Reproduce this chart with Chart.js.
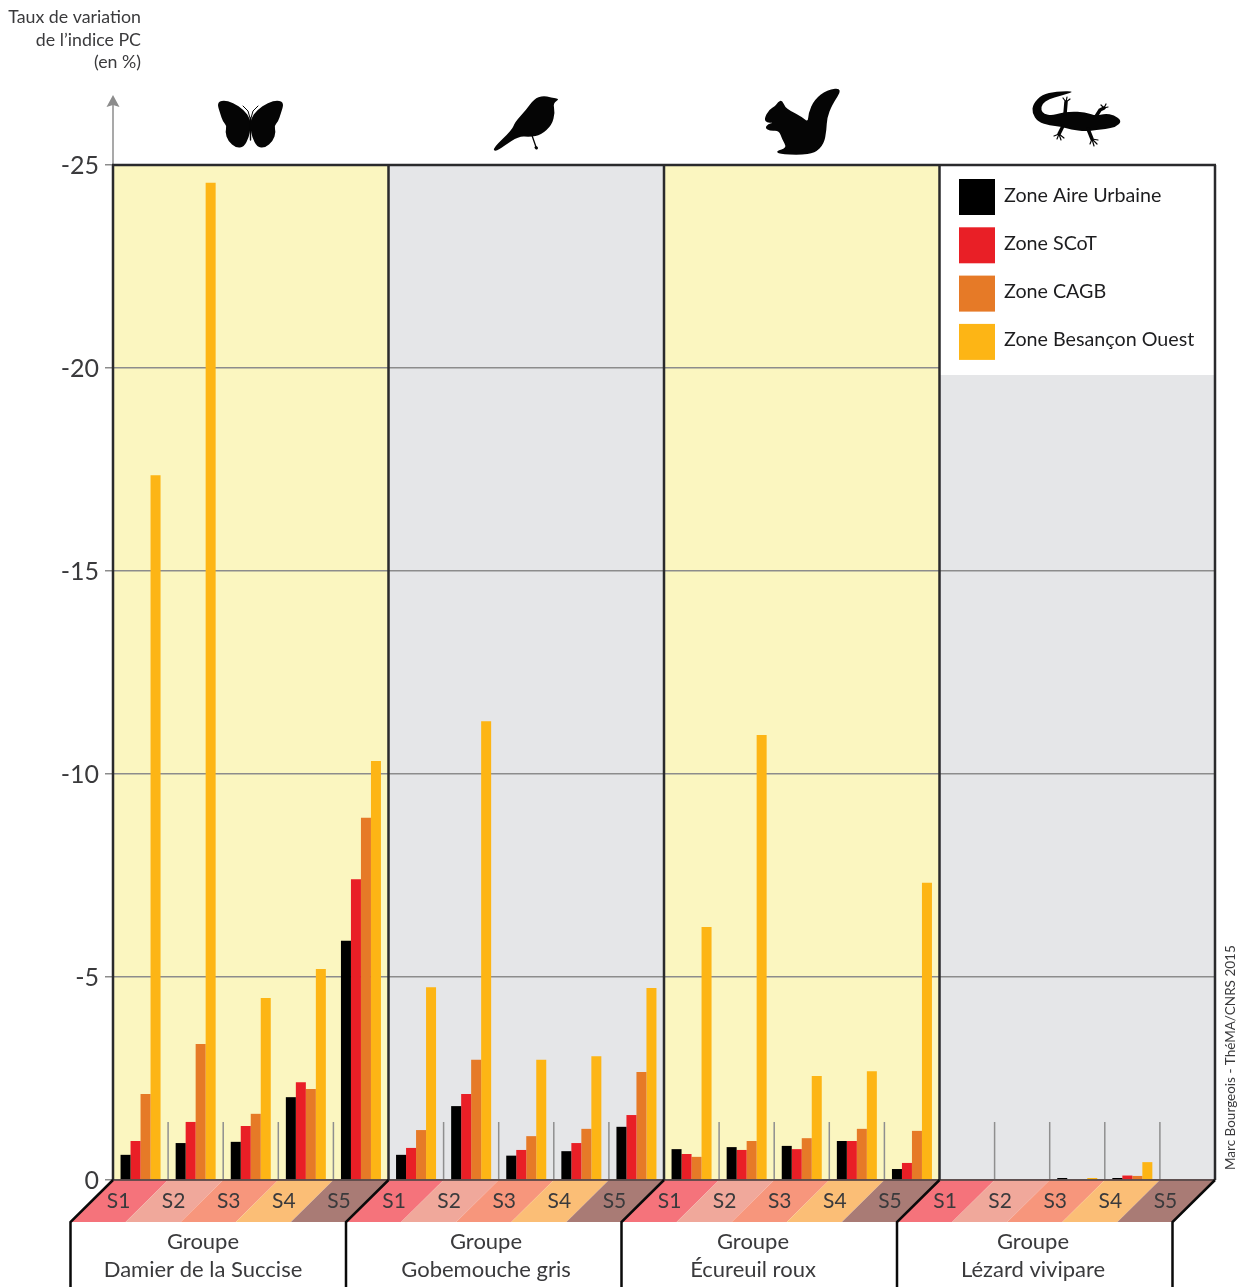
<!DOCTYPE html>
<html lang="fr">
<head>
<meta charset="utf-8">
<title>Taux de variation de l'indice PC</title>
<script src="https://cdn.jsdelivr.net/npm/chart.js@4/dist/chart.umd.min.js"></script>
<style>
  html, body { margin: 0; padding: 0; background: #fff; }
  canvas { display: block; }
</style>
</head>
<body>
<canvas id="myChart" width="1246" height="1287"></canvas>
<script>
  // values, 4 groups x 5 scenarios
  const seances = ['S1', 'S2', 'S3', 'S4', 'S5'];
  const groupes = [['Groupe', 'Damier de la Succise'], ['Groupe', 'Gobemouche gris'], ['Groupe', 'Écureuil roux'], ['Groupe', 'Lézard vivipare']];
  const yTicks = [0, -5, -10, -15, -20, -25];
  const aireUrbaine = [-0.62, -0.91, -0.94, -2.04, -5.89, -0.62, -1.82, -0.6, -0.71, -1.31, -0.76, -0.81, -0.84, -0.96, -0.27, 0, 0, -0.05, -0.05, 0];
  const scot = [-0.96, -1.43, -1.33, -2.41, -7.41, -0.79, -2.12, -0.74, -0.91, -1.6, -0.64, -0.74, -0.76, -0.96, -0.42, 0, 0, 0, -0.11, 0];
  const cagb = [-2.12, -3.35, -1.63, -2.24, -8.92, -1.23, -2.96, -1.08, -1.26, -2.66, -0.57, -0.96, -1.03, -1.26, -1.21, 0, 0, 0, -0.1, 0];
  const besanconOuest = [-17.36, -24.56, -4.48, -5.2, -10.32, -4.75, -11.3, -2.96, -3.05, -4.73, -6.23, -10.96, -2.56, -2.68, -7.32, 0, 0, -0.05, -0.44, 0];

  const fontName = 'Lato, sans-serif';
  const textColor = '#3a3a3c';
  const panelColors = ['#fbf6c0', '#e5e6e8', '#fbf6c0', '#e5e6e8'];
  const ribbonColors = ['#f5737b', '#f0a89b', '#f7967c', '#fbbe76', '#a97b75'];
  const groupCenters = [203, 486, 753, 1033];

  const labels = [];
  groupes.forEach(() => seances.forEach(s => labels.push(s)));

  // smooth closed shape through the given points
  function blob(c, pts) {
    c.beginPath();
    const n = pts.length;
    c.moveTo((pts[n - 1][0] + pts[0][0]) / 2, (pts[n - 1][1] + pts[0][1]) / 2);
    for (let i = 0; i < n; i++) {
      const p = pts[i], q = pts[(i + 1) % n];
      c.quadraticCurveTo(p[0], p[1], (p[0] + q[0]) / 2, (p[1] + q[1]) / 2);
    }
    c.closePath();
    c.fill();
  }
  function strokes(c, w, segs) {
    c.lineWidth = w;
    c.lineCap = 'round';
    segs.forEach(s => {
      c.beginPath();
      c.moveTo(s[0], s[1]);
      for (let i = 2; i < s.length; i += 2) c.lineTo(s[i], s[i + 1]);
      c.stroke();
    });
  }

  function drawIcons(c) {
    c.save();
    c.fillStyle = '#050505';
    c.strokeStyle = '#050505';
    // butterfly
    const half = [[250.5, 119], [244, 110], [233, 102.5], [223, 100], [217, 103], [220, 113], [223, 122], [227, 126], [225, 132], [228, 141], [236, 148], [244, 147], [249, 137], [250.5, 128]];
    blob(c, half);
    blob(c, half.map(p => [501 - p[0], p[1]]));
    strokes(c, 1, [[250, 118, 248, 111, 243, 106], [251, 118, 253, 111, 258, 106]]);
    strokes(c, 1.4, [[250.5, 118, 250.5, 140]]);
    // bird
    blob(c, [[495, 152], [493, 148], [512, 130], [515, 122], [526, 110], [534, 99], [543, 95.5], [551, 97.5], [560, 99], [553, 103], [555, 112], [552, 125], [541, 135], [530, 137], [519, 136], [504, 146]]);
    strokes(c, 1.3, [[531.5, 134, 536, 147]]);
    strokes(c, 3, [[536, 147.5, 536.5, 148]]);
    // squirrel
    blob(c, [[843, 88], [827, 89.5], [814, 100], [808.5, 113], [808, 122], [802, 117], [790, 110.5], [785, 107], [782, 100], [778, 102], [775, 106.5], [769, 109.5], [764, 119], [767, 123], [774, 122.5], [768, 124], [765, 128], [770, 131], [779, 130.5], [782, 139], [787, 148], [776, 151], [779, 154], [800, 155], [815, 153], [824, 144], [826.5, 130], [827, 118], [832, 105]]);
    // lizard
    blob(c, [[1076, 91], [1056, 91.5], [1042, 94.5], [1033, 104], [1032, 113], [1038, 122], [1050, 125.5], [1060, 126.5], [1071, 129.5], [1085, 131.5], [1097, 130], [1105, 129], [1116, 127], [1122, 121], [1114, 115], [1105, 113.5], [1096, 116], [1085, 112], [1070, 111.5], [1060, 113], [1052, 115.5], [1044, 114], [1041, 110], [1042, 104], [1049, 99], [1060, 96]]);
    strokes(c, 3.5, [[1065, 114, 1066, 102], [1095, 118, 1100, 110, 1104, 108], [1063, 126, 1059, 134], [1088, 129, 1092, 139]]);
    strokes(c, 1.2, [
      [1066, 102, 1063, 98], [1066, 102, 1067, 97], [1066, 102, 1070, 99],
      [1104, 108, 1108, 107], [1104, 108, 1106, 104], [1104, 108, 1101, 105],
      [1059, 134, 1054, 136], [1059, 134, 1057, 139], [1059, 134, 1061, 140], [1059, 134, 1064, 138],
      [1092, 139, 1090, 144], [1092, 139, 1094, 146], [1092, 139, 1097, 144], [1092, 139, 1098, 140]
    ]);
    c.restore();
  }

  const decor = {
    id: 'decor',
    // panels and the slanted band sit under the scales
    beforeDraw(chart) {
      const c = chart.ctx, a = chart.chartArea, x = chart.scales.x;
      const step = (a.right - a.left) / 20;
      c.save();
      panelColors.forEach((col, i) => {
        c.fillStyle = col;
        c.fillRect(a.left + i * 5 * step, a.top, 5 * step, a.bottom - a.top);
      });
      const h = 42, dx = 42.5;
      labels.forEach((l, i) => {
        const x0 = x.left + i * step;
        c.fillStyle = ribbonColors[i % 5];
        c.beginPath();
        c.moveTo(x0, a.bottom);
        c.lineTo(x0 + step, a.bottom);
        c.lineTo(x0 + step - dx, a.bottom + h);
        c.lineTo(x0 - dx, a.bottom + h);
        c.closePath();
        c.fill();
      });
      c.restore();
    },
    beforeDatasetsDraw(chart) {
      const c = chart.ctx, a = chart.chartArea;
      const step = (a.right - a.left) / 20;
      c.save();
      c.strokeStyle = '#8f8f8f';
      c.lineWidth = 1.5;
      labels.forEach((l, i) => {
        if (i % 5 === 0) return;
        const xx = a.left + i * step;
        c.beginPath();
        c.moveTo(xx, a.bottom - 58);
        c.lineTo(xx, a.bottom);
        c.stroke();
      });
      c.restore();
    },
    afterDatasetsDraw(chart) {
      const c = chart.ctx, a = chart.chartArea;
      const step = (a.right - a.left) / 20;
      const h = 42, dx = 42.5;
      c.save();
      // legend
      c.fillStyle = '#fff';
      c.fillRect(a.left + 15 * step, a.top, 5 * step, 210);
      chart.data.datasets.forEach((d, i) => {
        c.fillStyle = d.backgroundColor;
        c.fillRect(959, 179 + i * 48.3, 36, 36);
        c.fillStyle = '#1d1d1f';
        c.font = '19.7px ' + fontName;
        c.textAlign = 'left';
        c.textBaseline = 'middle';
        c.fillText(d.label, 1004, 196 + i * 48);
      });
      // axis arrow
      c.strokeStyle = '#8c8c8c';
      c.fillStyle = '#8c8c8c';
      c.lineWidth = 1.5;
      c.beginPath();
      c.moveTo(a.left, a.top);
      c.lineTo(a.left, 100);
      c.stroke();
      c.beginPath();
      c.moveTo(a.left, 95);
      c.lineTo(a.left + 6.5, 107);
      c.lineTo(a.left, 105);
      c.lineTo(a.left - 6.5, 107);
      c.closePath();
      c.fill();
      // baseline
      c.strokeStyle = '#4f3c3c';
      c.lineWidth = 1.5;
      c.beginPath();
      c.moveTo(a.left, a.bottom);
      c.lineTo(a.right, a.bottom);
      c.stroke();
      // panel frame
      c.strokeStyle = '#2a2a2c';
      c.lineWidth = 2.5;
      c.beginPath();
      c.moveTo(a.left - 1, a.top);
      c.lineTo(a.right + 1, a.top);
      for (let i = 0; i <= 4; i++) {
        const xx = a.left + i * 5 * step;
        c.moveTo(xx, a.top);
        c.lineTo(xx, a.bottom);
      }
      c.stroke();
      // box edges under the band
      c.strokeStyle = '#0a0a0a';
      c.beginPath();
      for (let i = 0; i <= 4; i++) {
        const xx = a.left + i * 5 * step;
        c.moveTo(xx, a.bottom);
        c.lineTo(xx - dx, a.bottom + h);
        c.lineTo(xx - dx, 1287);
      }
      c.stroke();
      // group names
      c.fillStyle = textColor;
      c.font = '22px ' + fontName;
      c.textAlign = 'center';
      c.textBaseline = 'middle';
      groupes.forEach((g, i) => {
        c.fillText(g[0], groupCenters[i], 1242);
        c.fillText(g[1], groupCenters[i], 1270);
      });
      // y axis title
      c.font = '17.8px ' + fontName;
      c.textAlign = 'right';
      c.fillText('Taux de variation', 141, 17);
      c.fillText('de l’indice PC', 141, 40);
      c.fillText('(en %)', 141, 62);
      // credit
      c.translate(1231, 1170);
      c.rotate(-Math.PI / 2);
      c.textAlign = 'left';
      c.font = '13.5px ' + fontName;
      c.fillText('Marc Bourgeois - ThéMA/CNRS 2015', 0, 0);
      c.restore();
      drawIcons(c);
    }
  };

  new Chart(document.getElementById('myChart'), {
    type: 'bar',
    data: {
      labels: labels,
      datasets: [
        { label: 'Zone Aire Urbaine', data: aireUrbaine, backgroundColor: '#000000' },
        { label: 'Zone SCoT', data: scot, backgroundColor: '#e91f26' },
        { label: 'Zone CAGB', data: cagb, backgroundColor: '#e67a27' },
        { label: 'Zone Besançon Ouest', data: besanconOuest, backgroundColor: '#fdb515' }
      ]
    },
    options: {
      responsive: false,
      animation: false,
      categoryPercentage: 0.726,
      barPercentage: 1,
      layout: { padding: { top: 165, right: 31, bottom: 0, left: 0 } },
      plugins: { legend: { display: false }, tooltip: { enabled: false } },
      scales: {
        x: {
          grid: { display: false },
          border: { display: false },
          afterFit: s => { s.height = 107; },
          ticks: {
            autoSkip: false,
            maxRotation: 0,
            minRotation: 0,
            labelOffset: -22,
            padding: 1,
            color: textColor,
            font: { family: fontName, size: 21 }
          }
        },
        y: {
          reverse: true,
          min: -25,
          max: 0,
          afterFit: s => { s.width = 113; },
          afterBuildTicks: s => { s.ticks = yTicks.map(v => ({ value: v })); },
          border: { display: false },
          grid: { color: '#8c8c8c', tickColor: '#8c8c8c', lineWidth: 1.5, tickLength: 8 },
          ticks: {
            padding: 6,
            labelOffset: 1,
            color: textColor,
            font: { family: fontName, size: 25 }
          }
        }
      }
    },
    plugins: [decor]
  });
</script>
</body>
</html>
